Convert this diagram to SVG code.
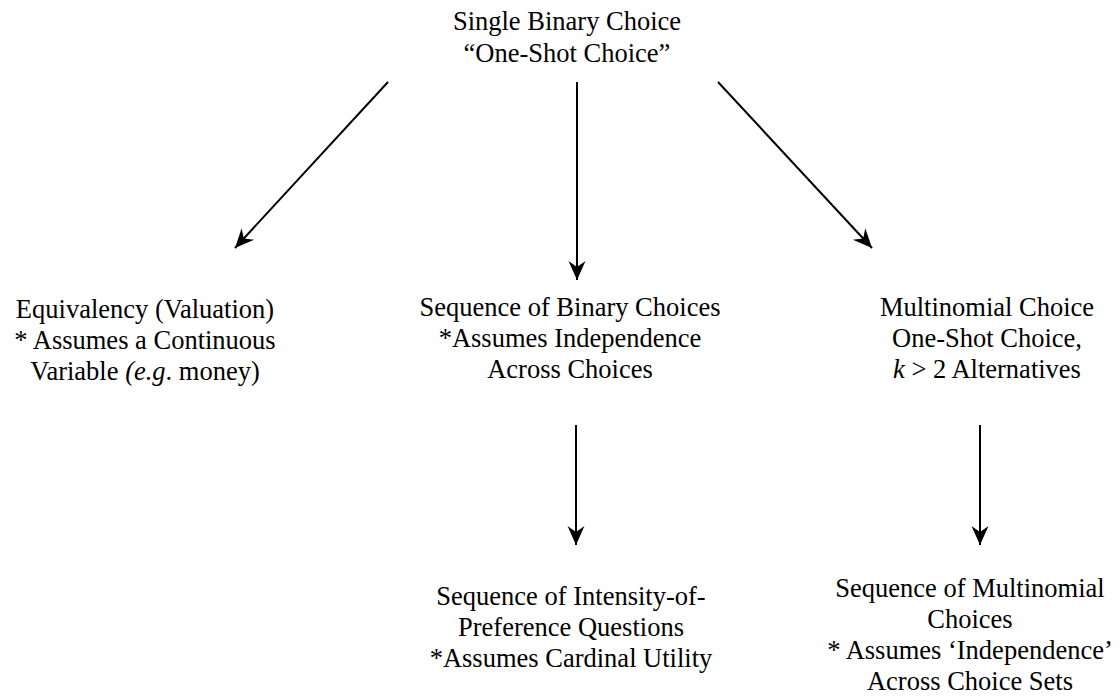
<svg xmlns="http://www.w3.org/2000/svg" width="1120" height="700" viewBox="0 0 1120 700">
<defs>
<style>
text{font-family:'Liberation Serif','Times New Roman',serif;font-size:26.5px;fill:#000;text-anchor:middle}
.c{stroke:#000;stroke-width:2;fill:none}
</style>
<marker id="ah" markerUnits="userSpaceOnUse" markerWidth="24" markerHeight="20" viewBox="-20 -10 22 20" refX="0" refY="0" orient="auto">
<path d="M0,0 L-19,-8.5 L-13,0 L-19,8.5 Z" fill="#000"/>
</marker>
</defs>
<rect width="1120" height="700" fill="#fff"/>
<g id="connectors">
<line class="c" x1="388" y1="82" x2="235" y2="248" marker-end="url(#ah)"/>
<line class="c" x1="577" y1="82" x2="577" y2="280" marker-end="url(#ah)"/>
<line class="c" x1="718" y1="82" x2="872" y2="248" marker-end="url(#ah)"/>
<line class="c" x1="576" y1="425" x2="576" y2="545" marker-end="url(#ah)"/>
<line class="c" x1="980" y1="425" x2="980" y2="545" marker-end="url(#ah)"/>
</g>
<g id="single">
<text x="567" y="30">Single Binary Choice</text>
<text x="567" y="62">“One-Shot Choice”</text>
</g>
<g id="equivalency">
<text x="145" y="318">Equivalency (Valuation)</text>
<text x="145" y="349">* Assumes a Continuous</text>
<text x="145" y="380">Variable <tspan font-style="italic">(e.g</tspan>. money)</text>
</g>
<g id="sequence-binary">
<text x="570" y="316">Sequence of Binary Choices</text>
<text x="570" y="347">*Assumes Independence</text>
<text x="570" y="378">Across Choices</text>
</g>
<g id="multinomial">
<text x="987" y="316">Multinomial Choice</text>
<text x="987" y="347">One-Shot Choice,</text>
<text x="987" y="378"><tspan font-style="italic">k</tspan> &gt; 2 Alternatives</text>
</g>
<g id="sequence-intensity">
<text x="571" y="605">Sequence of Intensity-of-</text>
<text x="571" y="636">Preference Questions</text>
<text x="571" y="667">*Assumes Cardinal Utility</text>
</g>
<g id="sequence-multinomial">
<text x="970" y="597">Sequence of Multinomial</text>
<text x="970" y="628">Choices</text>
<text x="970" y="659">* Assumes ‘Independence’</text>
<text x="970" y="690">Across Choice Sets</text>
</g>
</svg>
